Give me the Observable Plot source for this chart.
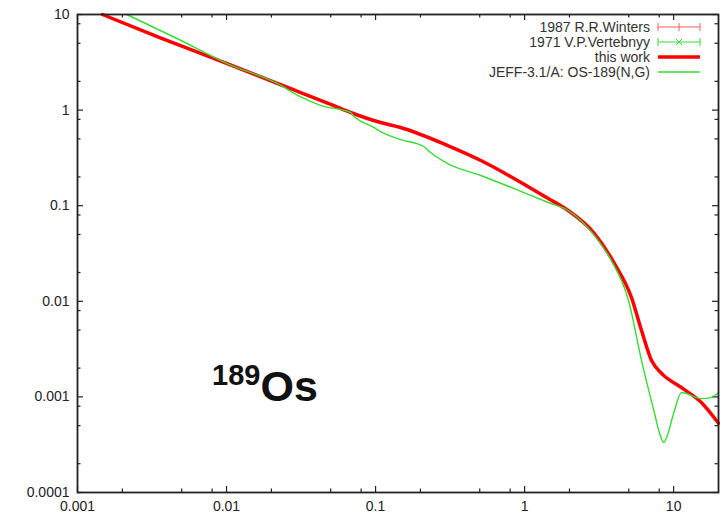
<!DOCTYPE html>
<html>
<head>
<meta charset="utf-8">
<script src="https://cdn.jsdelivr.net/npm/d3@7"></script>
<script src="https://cdn.jsdelivr.net/npm/@observablehq/plot@0.6"></script>
<style>
  body { margin: 0; background: #fff; }
  #wrap { position: relative; width: 720px; height: 520px; }
  #legend { position: absolute; left: 0; top: 0; pointer-events: none; }
</style>
</head>
<body>
<div id="wrap"></div>
<script>
// ---- data ----
const xTicks = [0.001, 0.01, 0.1, 1, 10];
const yTicks = [0.0001, 0.001, 0.01, 0.1, 1, 10];
const xMinorTicks = [0.002, 0.005, 0.008, 0.02, 0.05, 0.08, 0.2, 0.5, 0.8, 2, 5, 8];
const yMinorTicks = [0.0002, 0.0005, 0.0008, 0.002, 0.005, 0.008, 0.02, 0.05, 0.08, 0.2, 0.5, 0.8, 2, 5, 8];

// "this work"
const thisWorkE  = [0.00147, 0.00356, 0.0101, 0.0219, 0.0521, 0.068, 0.0883, 0.108, 0.147, 0.305, 0.509, 0.849, 1.44, 1.96, 2.94, 4.01, 5.21, 6.09, 7.11, 8.30, 11.3, 15.4, 20];
const thisWorkXS = [10, 5.74, 3.07, 1.90, 1.12, 0.944, 0.817, 0.741, 0.658, 0.426, 0.297, 0.193, 0.119, 0.0891, 0.0512, 0.0248, 0.0110, 0.00495, 0.0024, 0.00176, 0.00125, 0.00087, 0.00053];

// JEFF-3.1/A
const jeffE  = [0.00214, 0.00465, 0.0101, 0.0219, 0.0313, 0.0427, 0.068, 0.0708, 0.0971, 0.108, 0.147, 0.210, 0.234, 0.305, 0.509, 0.849, 1.44, 1.96, 2.94, 3.82, 4.98, 6.09, 7.45, 8.05, 8.57, 8.97, 10.0, 11.3, 15.4, 18.0, 20];
const jeffXS = [10, 5.61, 3.07, 1.90, 1.38, 1.12, 0.944, 0.879, 0.658, 0.597, 0.492, 0.416, 0.360, 0.276, 0.207, 0.151, 0.108, 0.0891, 0.0488, 0.0267, 0.0102, 0.0024, 0.00067, 0.000414, 0.000334, 0.000376, 0.00067, 0.00111, 0.00096, 0.00099, 0.00111];

const legendLabels = ["1987 R.R.Winters", "1971 V.P.Vertebnyy", "this work", "JEFF-3.1/A: OS-189(N,G)"];
const legendColors = ["#ff5a5a", "#33dd33", "#ff0000", "#33dd33"];
const legendKinds  = ["err+", "errx", "thick", "thin"];

const annotE = 0.0169, annotXS = 0.000916;
const annotSup = "189", annotMain = "Os";

// ---- build ----
const red = thisWorkE.map((e, i) => ({e, xs: thisWorkXS[i]}));
const green = jeffE.map((e, i) => ({e, xs: jeffXS[i]}));

const W = 720, H = 520, mL = 77, mR = 2, mT = 14, mB = 28;
const pw = W - mL - mR, ph = H - mT - mB;
const major = 6, minor = 3.5;
const tickColor = "#222";

const plot = Plot.plot({
  width: W, height: H,
  marginLeft: mL, marginRight: mR, marginTop: mT, marginBottom: mB,
  x: {type: "log", domain: [0.001, 20]},
  y: {type: "log", domain: [0.0001, 10]},
  style: {fontFamily: "'Liberation Sans', Arial, sans-serif", fontSize: "14px", color: "#222", background: "#fff"},
  marks: [
    Plot.axisX({ticks: xTicks, tickSize: 0, tickPadding: 9, tickFormat: d => String(d), label: null}),
    Plot.axisY({ticks: yTicks, tickSize: 0, tickPadding: 8, tickFormat: d => String(d), label: null}),
    // inward ticks on all four sides
    Plot.tickX(xTicks, {x: d => d, insetTop: ph - major, stroke: tickColor, strokeWidth: 1.2}),
    Plot.tickX(xTicks, {x: d => d, insetBottom: ph - major, stroke: tickColor, strokeWidth: 1.2}),
    Plot.tickX(xMinorTicks, {x: d => d, insetTop: ph - minor, stroke: tickColor, strokeWidth: 1.2}),
    Plot.tickX(xMinorTicks, {x: d => d, insetBottom: ph - minor, stroke: tickColor, strokeWidth: 1.2}),
    Plot.tickY(yTicks, {y: d => d, insetRight: pw - major, stroke: tickColor, strokeWidth: 1.2}),
    Plot.tickY(yTicks, {y: d => d, insetLeft: pw - major, stroke: tickColor, strokeWidth: 1.2}),
    Plot.tickY(yMinorTicks, {y: d => d, insetRight: pw - minor, stroke: tickColor, strokeWidth: 1.2}),
    Plot.tickY(yMinorTicks, {y: d => d, insetLeft: pw - minor, stroke: tickColor, strokeWidth: 1.2}),
    Plot.line(red, {x: "e", y: "xs", stroke: "#ff0000", strokeWidth: 3.5, curve: "monotone-x"}),
    Plot.line(green, {x: "e", y: "xs", stroke: "#33dd33", strokeWidth: 1.4, curve: "monotone-x"}),
    Plot.text([{e: annotE, xs: annotXS, t: annotSup}], {x: "e", y: "xs", text: "t", textAnchor: "end", lineAnchor: "bottom", dy: -16, fontSize: 29, fontWeight: "bold", fill: "#111"}),
    Plot.text([{e: annotE, xs: annotXS, t: annotMain}], {x: "e", y: "xs", text: "t", textAnchor: "start", lineAnchor: "bottom", fontSize: 43, fontWeight: "bold", fill: "#111"}),
    Plot.frame({stroke: "#222", strokeWidth: 1.8})
  ]
});
document.getElementById("wrap").appendChild(plot);

// ---- legend overlay (inside top-right of plot area) ----
const ns = "http://www.w3.org/2000/svg";
const lg = document.createElementNS(ns, "svg");
lg.setAttribute("id", "legend");
lg.setAttribute("width", W);
lg.setAttribute("height", 100);
lg.style.fontFamily = "'Liberation Sans', Arial, sans-serif";
const textX = 650, x0 = 658, x1 = 700, xm = 679;
function el(name, attrs) {
  const e = document.createElementNS(ns, name);
  for (const k in attrs) e.setAttribute(k, attrs[k]);
  lg.appendChild(e);
  return e;
}
legendLabels.forEach((label, i) => {
  const y = 27 + i * 15;
  const t = el("text", {x: textX, y: y, "text-anchor": "end", "dominant-baseline": "central", "font-size": 14, fill: "#333"});
  t.textContent = label;
  const c = legendColors[i], k = legendKinds[i];
  if (k === "thick") {
    el("line", {x1: x0, x2: x1, y1: y, y2: y, stroke: c, "stroke-width": 3.5});
  } else if (k === "thin") {
    el("line", {x1: x0, x2: x1, y1: y, y2: y, stroke: c, "stroke-width": 1.4});
  } else {
    el("line", {x1: x0, x2: x1, y1: y, y2: y, stroke: c, "stroke-width": 1});
    el("line", {x1: x0, x2: x0, y1: y - 4, y2: y + 4, stroke: c, "stroke-width": 1});
    el("line", {x1: x1, x2: x1, y1: y - 4, y2: y + 4, stroke: c, "stroke-width": 1});
    if (k === "err+") {
      el("line", {x1: xm, x2: xm, y1: y - 4, y2: y + 4, stroke: c, "stroke-width": 1});
    } else {
      el("line", {x1: xm - 3, x2: xm + 3, y1: y - 3, y2: y + 3, stroke: c, "stroke-width": 1});
      el("line", {x1: xm - 3, x2: xm + 3, y1: y + 3, y2: y - 3, stroke: c, "stroke-width": 1});
    }
  }
});
document.getElementById("wrap").appendChild(lg);
</script>
</body>
</html>
